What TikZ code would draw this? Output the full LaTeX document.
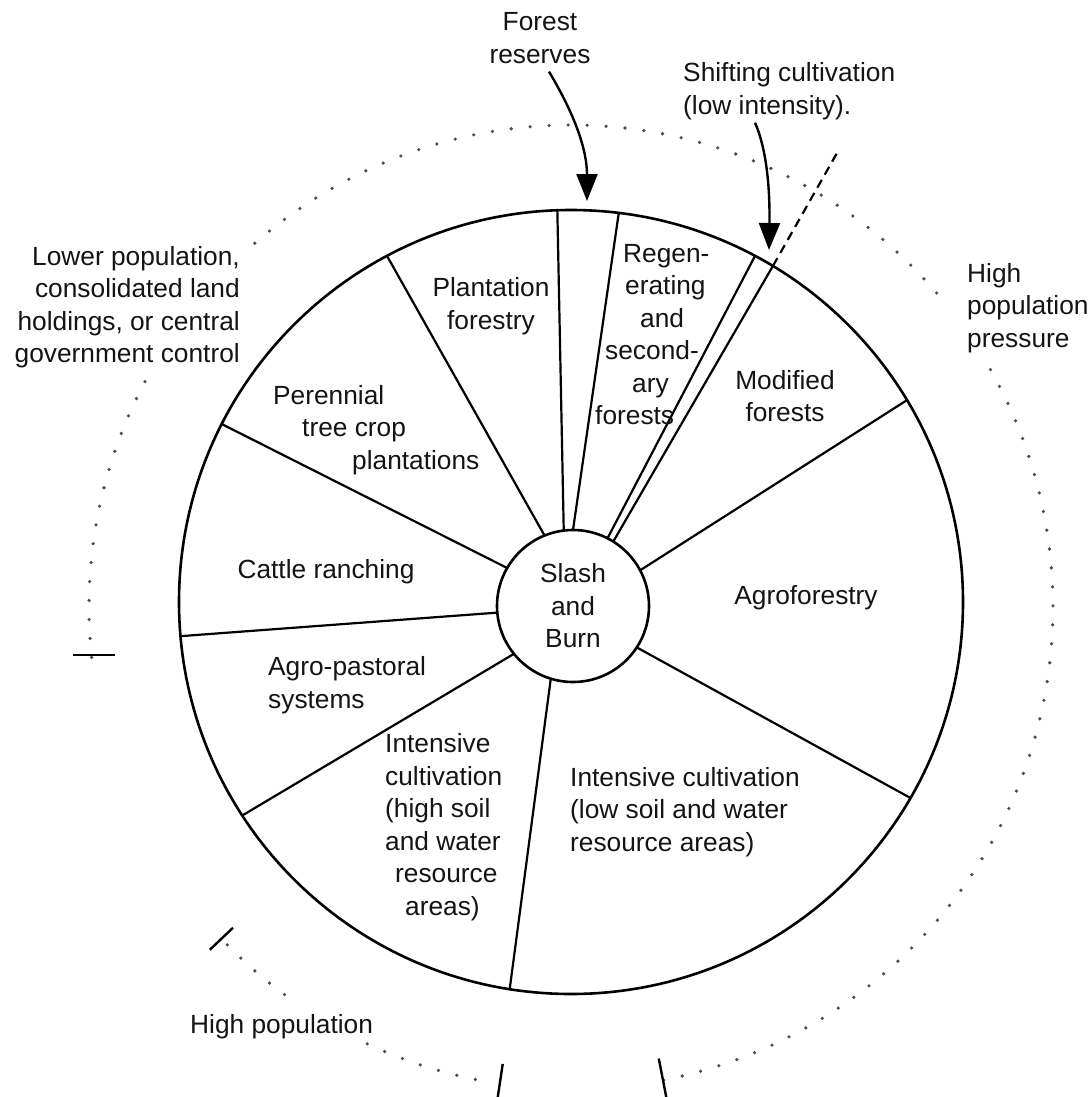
\documentclass[tikz,border=0pt]{standalone}
\usepackage{fontspec}
\setmainfont{Liberation Sans}
\usetikzlibrary{arrows.meta}
\begin{document}
\begin{tikzpicture}[x=1pt,y=1pt,
  font=\fontsize{26.3}{32.5}\selectfont,
  ring/.style={draw, circle, line width=2.6pt, inner sep=0pt, outer sep=0pt},
  spoke/.style={line width=2.2pt},
  txt/.style={inner sep=0pt, text=black!92},
  dots/.style={line width=3.6pt, line cap=round, dash pattern=on 0pt off 19pt, black!70},
  tick/.style={line width=2.4pt},
  dashext/.style={line width=2.2pt, dash pattern=on 9pt off 6pt},
  pointer/.style={line width=2.4pt, -{Triangle[length=27pt,width=21pt]}},
]
\useasboundingbox[fill=white] (0,0) rectangle (1091,-1097);

% outer wheel and central hub
\node[ring, minimum size=784pt] (wheel) at (571,-602) {};
\node[ring, minimum size=152pt, align=center, fill=white, text=black!92] (hub) at (573,-606) {Slash\\and\\Burn};

% sector boundaries
\draw[spoke] (hub.97) -- (wheel.92);
\draw[spoke] (hub.90) -- (wheel.83);
\draw[spoke] (hub.63) -- (wheel.62);
\draw[spoke] (hub.58) -- (wheel.59);
\draw[spoke] (hub.28) -- (wheel.31);
\draw[spoke] (hub.327) -- (wheel.330);
\draw[spoke] (hub.253) -- (wheel.261);
\draw[spoke] (hub.219) -- (wheel.213);
\draw[spoke] (hub.185) -- (wheel.185);
\draw[spoke] (hub.150) -- (wheel.153);
\draw[spoke] (hub.112) -- (wheel.118);

% dashed continuation of the shifting-cultivation boundary
\coordinate (shiftend) at (837,-153);
\draw[dashext] (wheel.59) -- (shiftend);

% dotted population gradient arcs
\coordinate (D) at (571,-607);
\draw[dots] (D) ++(186:482) arc[start angle=186, end angle=152, radius=482];
\draw[dots] (D) ++(131:482) arc[start angle=131, end angle=40.5, radius=482];
\draw[dots] (D) ++(29.5:482) arc[start angle=29.5, end angle=-79, radius=482];
\draw[dots] (D) ++(224.5:482) arc[start angle=224.5, end angle=235, radius=482];
\draw[dots] (D) ++(245:482) arc[start angle=245, end angle=260, radius=482];

% end marks of the arcs
\draw[tick] (73,-655) -- (115,-655);
\draw[tick] (D) ++(223.5:466) -- ++(223.5:32);
\draw[tick] (D) ++(261.5:462) -- ++(261.5:40);
\draw[tick] (D) ++(-79:460) -- ++(-79:40);

% outer labels
\node[txt, align=center] (forestlbl) at (540,-38) {Forest\\reserves};
\node[txt, anchor=west, align=left] (shiftlbl) at (683,-91) {Shifting cultivation\\(low intensity).};
\node[txt, anchor=east, align=right] (lowpop) at (240,-307) {Lower population,\\consolidated land\\holdings, or central\\government control};
\node[txt, anchor=west, align=left] (highpress) at (967,-308) {High\\population\\pressure};
\node[txt, anchor=west] (highpop) at (190,-1027) {High population};

% pointers into the wheel
\coordinate (forestpt) at (587,-201);
\coordinate (shiftpt) at (769,-250);
\draw[pointer] ([xshift=9pt,yshift=-8pt]forestlbl.south) .. controls (575,-115) and (587,-150) .. (forestpt);
\draw[pointer] ([xshift=72pt,yshift=-3pt]shiftlbl.south west) .. controls (767,-150) and (770,-190) .. (shiftpt);

% sector labels
\node[txt, align=center] (plantation) at (491,-306) {Plantation\\forestry};
\node[txt, anchor=west, align=left] (perennial) at (273,-430) {Perennial\\\hspace*{29pt}tree crop\\\hspace*{79pt}plantations};
\node[txt] (cattle) at (326,-572) {Cattle ranching};
\node[txt, anchor=west, align=left] (agropast) at (268,-685) {Agro-pastoral\\systems};
\node[txt, anchor=west, align=left] (inthigh) at (385,-827) {Intensive\\cultivation\\(high soil\\and water\\\hspace*{10pt}resource\\\hspace*{20pt}areas)};
\node[txt, anchor=west, align=left] (intlow) at (570,-812) {Intensive cultivation\\(low soil and water\\resource areas)};
\node[txt] (agrofor) at (806,-598) {Agroforestry};
\node[txt, align=center] (modified) at (785,-396) {Modified\\forests};
\node[txt, anchor=west, align=left] (regen) at (595,-334.5) {\hspace*{28pt}Regen-\\\hspace*{30pt}erating\\\hspace*{45pt}and\\\hspace*{10pt}second-\\\hspace*{37pt}ary\\forests};
\end{tikzpicture}
\end{document}
